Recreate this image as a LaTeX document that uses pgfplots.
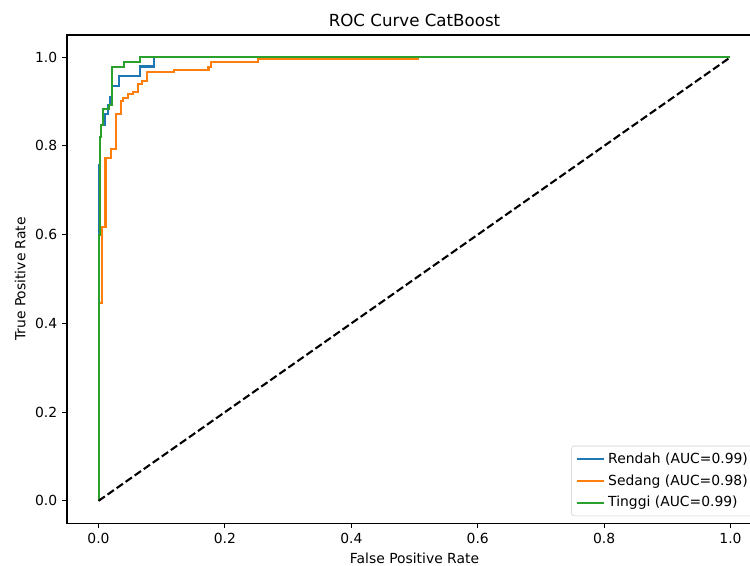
\documentclass[border=0pt]{standalone}
\usepackage{fontspec}
\setmainfont{DejaVu Sans}
\usepackage{pgfplots}
\pgfplotsset{compat=1.18}
\definecolor{tabblue}{HTML}{1F77B4}
\definecolor{taborange}{HTML}{FF7F0E}
\definecolor{tabgreen}{HTML}{2CA02C}
\begin{document}
\begin{tikzpicture}
\path[use as bounding box, clip] (-48.2pt,-30.2pt) rectangle (491.8pt,376.6pt);
\begin{axis}[
  at={(0,0)}, anchor=south west,
  scale only axis, width=500.5pt, height=351.4pt,
  xmin=-0.05, xmax=1.05, ymin=-0.05, ymax=1.05,
  xtick={0,0.2,0.4,0.6,0.8,1.0}, xticklabels={0.0,0.2,0.4,0.6,0.8,1.0},
  ytick={0,0.2,0.4,0.6,0.8,1.0}, yticklabels={0.0,0.2,0.4,0.6,0.8,1.0},
  tick align=outside, major tick length=3.5pt,
  xtick pos=bottom, ytick pos=left,
  axis line style={line width=0.8pt},
  every tick/.style={line width=0.8pt, black},
  tick label style={font=\fontsize{10}{12}\selectfont},
  /pgf/number format/assume math mode=true,
  title={ROC Curve CatBoost},
  title style={font=\fontsize{12}{14}\selectfont, yshift=-3.5pt},
  xlabel={False Positive Rate},
  ylabel={True Positive Rate},
  label style={font=\fontsize{10}{12}\selectfont},
  legend style={at={(1,0)}, anchor=south east, xshift=-5pt, yshift=5pt,
    draw=black!20, rounded corners=2pt, fill=white, fill opacity=0.8, text opacity=1,
    font=\fontsize{10}{12}\selectfont, row sep=2.5pt, inner sep=3pt},
  legend cell align=left,
  legend image code/.code={\draw[#1] (0pt,0pt) -- (20pt,0pt);},
]
\addplot[tabblue, line width=1.5pt] coordinates {
(0,0) (0,0.757) (0.0016,0.757) (0.0016,0.82) (0.004,0.82) (0.004,0.847)
(0.0095,0.847) (0.0095,0.872) (0.015,0.872) (0.015,0.892) (0.018,0.892)
(0.018,0.91) (0.021,0.91) (0.021,0.935) (0.032,0.935) (0.032,0.957)
(0.065,0.957) (0.065,0.979) (0.088,0.979) (0.088,1.0) (1,1)};
\addlegendentry{Rendah (AUC=0.99)}
\addplot[taborange, line width=1.5pt] coordinates {
(0,0) (0,0.446) (0.005,0.446) (0.005,0.618) (0.011,0.618) (0.011,0.772)
(0.019,0.772) (0.019,0.793) (0.027,0.793) (0.027,0.871) (0.035,0.871)
(0.035,0.902) (0.039,0.902) (0.039,0.909) (0.047,0.909) (0.047,0.916)
(0.055,0.916) (0.055,0.922) (0.063,0.922) (0.063,0.939) (0.069,0.939)
(0.069,0.947) (0.076,0.947) (0.076,0.966) (0.120,0.966) (0.120,0.972)
(0.174,0.972) (0.174,0.977) (0.178,0.977) (0.178,0.989) (0.252,0.989)
(0.252,0.996) (0.505,0.996) (0.505,1.0) (1,1)};
\addlegendentry{Sedang (AUC=0.98)}
\addplot[tabgreen, line width=1.5pt] coordinates {
(0,0) (0,0.60) (0.002,0.60) (0.002,0.82) (0.004,0.82) (0.004,0.847)
(0.0067,0.847) (0.0067,0.884) (0.017,0.884) (0.017,0.893) (0.022,0.893)
(0.022,0.978) (0.040,0.978) (0.040,0.989) (0.065,0.989) (0.065,1.0) (1,1)};
\addlegendentry{Tinggi (AUC=0.99)}
\addplot[black, line width=1.5pt, dash pattern=on 5.55pt off 2.4pt, forget plot] coordinates {(0,0) (1,1)};
\end{axis}
\end{tikzpicture}
\end{document}
